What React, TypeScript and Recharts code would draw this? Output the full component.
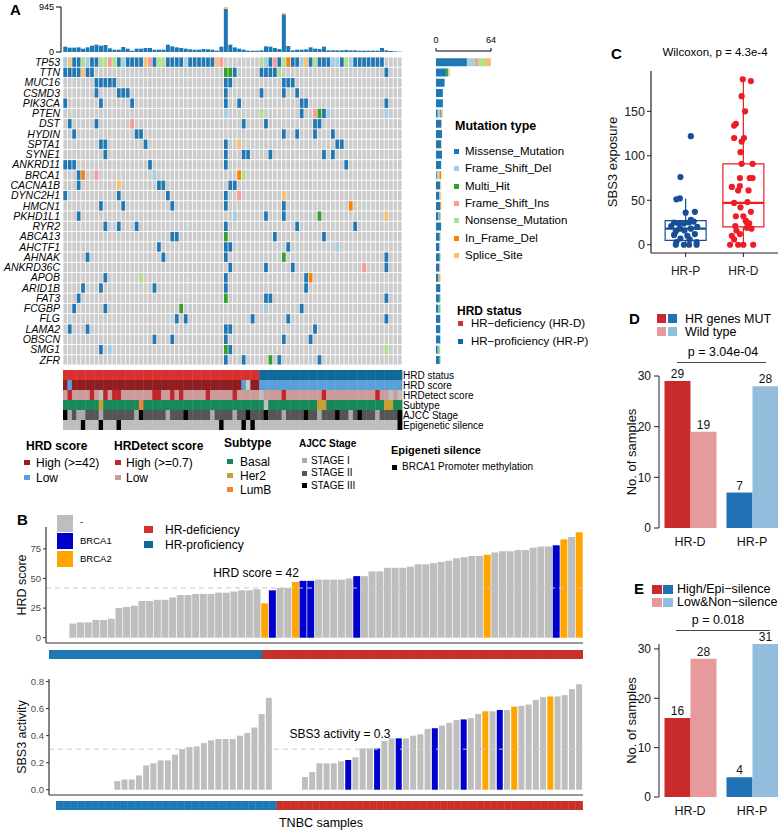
import React from "react";
import {
  BarChart,
  Bar,
  XAxis,
  YAxis,
  Cell,
  ScatterChart,
  Scatter,
  ReferenceLine,
  ReferenceArea,
  LabelList,
  Label
} from "recharts";

const FONT = "'Liberation Sans', Arial, Helvetica, sans-serif";

// ---------------- Panel A: oncoprint ----------------
const N_SAMPLES = 76;

const genes = [
  "TP53", "TTN", "MUC16", "CSMD3", "PIK3CA", "PTEN", "DST", "HYDIN", "SPTA1", "SYNE1",
  "ANKRD11", "BRCA1", "CACNA1B", "DYNC2H1", "HMCN1", "PKHD1L1", "RYR2", "ABCA13", "AHCTF1", "AHNAK",
  "ANKRD36C", "APOB", "ARID1B", "FAT3", "FCGBP", "FLG", "LAMA2", "OBSCN", "SMG1", "ZFR"
];

const genePct = [
  "84%", "21%", "13%", "11%", "11%", "11%", "9%", "9%", "9%", "9%",
  "8%", "8%", "8%", "8%", "8%", "8%", "8%", "7%", "7%", "7%",
  "7%", "7%", "7%", "7%", "7%", "7%", "7%", "7%", "7%", "7%"
];

// M missense, L frame-shift del, H multi hit, I frame-shift ins, N nonsense, D in-frame del, S splice
const tp53Row = ["LSMMNLMMNN", "INMLMMMMSI", "MNNMMMMLMM", "MMMMSI....", "....NLMIMN", "DMMLSMNMMM", "LLMNLMMMMM", "MM...."].join("");

// other genes: "column+type" tokens
const geneMuts = [
  tp53Row,
  "0M 1M 2M 3M 4S 5M 6M 36H 37H 38M 44M 45M 46M 47M 48N 72M",
  "7M 8M 9M 10M 11M 36M 37M 49M 50M 51M",
  "7M 12M 13M 14M 36M 44M 49M 52M",
  "0M 8M 15M 36M 39M 53M 54M 72M",
  "36L 44N 53M 56I 57H 58M 59L 72L",
  "1M 7M 15I 40M 45M 56M 57M",
  "2M 16M 17M 49M 52M 56M 60M",
  "8M 9M 18M 36M 39S 61M 62M",
  "9M 36M 40M 41M 46M 58M 60M",
  "0M 1M 2M 19M 36M 63M",
  "3M 4D 7I 20L 39D 40N",
  "3M 12S 21M 22M 37M 38M",
  "0M 12M 23M 36M 39I 49S",
  "8M 13M 24M 36M 49M 64D",
  "3M 38L 45M 49M 57H 72S",
  "9M 12M 16M 36M 52M 65M",
  "24M 25M 36H 47M 58M",
  "21M 36M 37M 50M 61L",
  "5M 22M 36M 49H 72M",
  "37M 45M 51M 67I 72M",
  "9M 17N 36M 54M 55D",
  "4M 8M 20M 36M 54M",
  "3M 36H 45M 46M 72M",
  "2M 9M 26H 45L 53M",
  "25M 27M 42M 50M 72M",
  "1M 5M 36M 37M 56M",
  "20M 24M 36M 49M 55M",
  "8M 10L 36H 37M 72N",
  "36M 40M 46H 48M 57M"
];

const mutTypes = ["M", "L", "H", "I", "N", "D", "S"];
const mutNames = ["Missense_Mutation", "Frame_Shift_Del", "Multi_Hit", "Frame_Shift_Ins", "Nonsense_Mutation", "In_Frame_Del", "Splice_Site"];
const mutColors = ["#1F78B4", "#A6CEE3", "#33A02C", "#FB9A99", "#B2DF8A", "#FF7F00", "#FDBF6F"];

// mutations per sample (top bar)
const tmbTotal = [
  112, 91, 91, 98, 70, 98, 133, 154, 133, 147,
  77, 49, 49, 105, 70, 28, 70, 70, 84, 84,
  49, 49, 49, 154, 119, 98, 84, 70, 56, 49,
  49, 63, 56, 49, 28, 112, 945, 154, 98, 70,
  49, 28, 28, 28, 35, 119, 112, 84, 63, 820,
  126, 35, 49, 49, 56, 98, 70, 63, 112, 35,
  35, 35, 35, 42, 35, 35, 28, 28, 28, 28,
  28, 84, 35, 21, 14, 7
];
const tmbSpliceTop: Record<number, number> = { 36: 40, 49: 30 };

const annoNames = ["HRD status", "HRD score", "HRDetect score", "Subtype", "AJCC Stage", "Epigenetic silence"];
const annoRle = [
  "D44 P32",
  "H1 L1 H38 L1 N1 H2 L32",
  "L1 H1 L4 H1 L1 N1 H1 L1 H2 L7 H2 L2 H1 L1 H1 L5 H1 L5 H1 L5 N1 L4 H1 L8 H1 L11 H1 L2 N1 L1 N1",
  "B8 H1 B8 L1 B27 N1 B11 H2 B13 H2 B2",
  "c1 a1 b1 a2 b3 a1 b7 a1 c1 b5 a1 b3 c1 b5 a1 b4 a1 b2 c1 b3 c1 b3 a1 b4 c1 b2 a1 b3 c1 b2 a1 b1 c1 b3 a1 b4 c1",
  "n4 Y1 n3 Y1 n3 Y1 n22 Y1 n4 Y1 n1 Y1 n32 Y1"
];
const annoColors: Record<string, string>[] = [
  { D: "#D7302F", P: "#0F6A99" },
  { H: "#8E1E20", L: "#5A9FD8", N: "#C8C8C8" },
  { H: "#C0272D", L: "#C99B9B", N: "#BEBEBE" },
  { B: "#18875A", H: "#C8A032", L: "#F5842F", N: "#BEBEBE" },
  { a: "#ABABAB", b: "#555555", c: "#000000" },
  { n: "#BEBEBE", Y: "#000000" }
];

// ---------------- Panel B ----------------
const hrdScoreHRP = [0, 0, 0, 12, 13, 13, 15, 15, 16, 25, 26, 27, 31, 31, 32, 32, 34, 36, 36, 37, 37, 37, 38, 38, 39, 40, 40, 41];
const hrdScoreHRD = [29, 40, 42, 42, 47, 48, 48, 49, 49, 49, 49, 50, 52, 52, 56, 56, 59, 59, 59, 60, 62, 62, 63, 64, 65, 67, 68, 69, 69, 70, 72, 73, 73, 74, 74, 76, 77, 77, 78, 83, 85, 89];
const hrdMutHRD = "21..211.....1................2........12.2"; // 1 = BRCA1, 2 = BRCA2

const sbs3HRP = [0, 0, 0, 0, 0, 0, 0, 0, 0, 0.064, 0.076, 0.076, 0.106, 0.18, 0.195, 0.217, 0.217, 0.26, 0.3, 0.315, 0.32, 0.345, 0.365, 0.375, 0.375, 0.375, 0.4, 0.42, 0.46, 0.56, 0.68];
const sbs3HRD = [0, 0, 0, 0, 0.094, 0.13, 0.195, 0.195, 0.195, 0.21, 0.22, 0.24, 0.305, 0.305, 0.305, 0.36, 0.38, 0.38, 0.38, 0.4, 0.41, 0.45, 0.455, 0.475, 0.495, 0.515, 0.52, 0.53, 0.56, 0.58, 0.58, 0.59, 0.59, 0.615, 0.62, 0.63, 0.665, 0.685, 0.69, 0.69, 0.7, 0.745, 0.78];
const sbs3MutHRD = "....".concat("......1...1..1....1...1..2.1.2....2....");

// ---------------- Panel C ----------------
const boxGroups = ["HR-P", "HR-D"];
// [min whisker, Q1, median, Q3, max whisker]
const boxStats = [
  [0, 5, 18, 27, 52],
  [0, 20, 47, 91, 187]
];
// [SBS3 exposure, horizontal jitter]
const exposureHRP = [
  [122, 0.09], [76, -0.09], [51, -0.16], [52, -0.1], [36, 0], [37, 0.16], [28, 0.09], [25, -0.2], [24, -0.12], [24, -0.03],
  [25, 0.06], [26, 0.14], [18, 0.09], [18, -0.1], [15, -0.17], [16, -0.02], [11, -0.2], [10, 0.03], [12, 0.16], [7, -0.09],
  [6, 0.07], [3, -0.16], [3, 0.19], [0, -0.17], [0, -0.03], [0, 0.06], [0, 0.19], [20, 0.2], [21, -0.25]
];
const exposureHRD = [
  [186, -0.01], [184, 0.13], [167, -0.03], [150, 0.03], [134, -0.16], [136, -0.13], [120, -0.16], [120, 0.01], [116, -0.03], [104, -0.05],
  [91, -0.03], [91, 0.16], [65, -0.2], [75, -0.06], [75, 0.11], [75, 0.16], [66, -0.06], [61, -0.09], [61, 0.09], [48, 0.07],
  [47, -0.16], [42, -0.05], [37, 0.13], [32, -0.13], [32, 0], [27, 0.04], [21, -0.14], [25, 0.06], [24, 0.1], [18, 0.14],
  [19, 0.06], [16, -0.12], [12, -0.06], [10, -0.2], [6, -0.16], [0, -0.23], [0, -0.09], [0, 0], [0, 0.17]
];

// ---------------- Panels D, E ----------------
const barGroups = ["HR-D", "HR-P"];
const dMut = [29, 7];
const dWild = [19, 28];
const eHigh = [16, 4];
const eLow = [28, 31];

// ---------------- helpers ----------------
const rowCodes = (s: string): string[] => {
  if (!s.includes(" ") && s.length === N_SAMPLES) return s.split("");
  const r: string[] = Array(N_SAMPLES).fill(".");
  s.split(" ").forEach((tok) => {
    r[parseInt(tok, 10)] = tok.slice(-1);
  });
  return r;
};
const rle = (s: string): string[] =>
  s.split(" ").flatMap((tok) => Array(parseInt(tok.slice(1), 10)).fill(tok[0]));

const mutColor = (t: string) => mutColors[mutTypes.indexOf(t)];
const brcaFill: Record<string, string> = { ".": "#BEBEBE", "1": "#0000CD", "2": "#FFA500" };
const grpFill: Record<string, string> = { P: "#1F78B4", D: "#C8302C" };

const GRID_W = 339;
const GRID_H = 308;

const T = ({ x, y, children, size = 12, bold = false, anchor = "start", color = "#000" }: any) => (
  <div
    style={{
      position: "absolute",
      left: x,
      top: y,
      transform: `translate(${anchor === "middle" ? "-50%" : anchor === "end" ? "-100%" : "0"}, -50%)`,
      fontSize: size,
      fontWeight: bold ? 700 : 400,
      color,
      whiteSpace: "nowrap",
      lineHeight: 1
    }}
  >
    {children}
  </div>
);
const Sq = ({ x, y, w, h, c }: any) => (
  <div style={{ position: "absolute", left: x, top: y, width: w, height: h, background: c }} />
);
const Pos = ({ x, y, children }: any) => (
  <div style={{ position: "absolute", left: x, top: y }}>{children}</div>
);

// single-line tick text (no wrapping)
const flatTick = (labels: string[], anchor: string, size: number, italic = false) => (p: any) => (
  <text x={p.x} y={p.y} dy="0.35em" textAnchor={anchor} fontSize={size} fontStyle={italic ? "italic" : "normal"} fill="#000">
    {labels[p.payload.value]}
  </text>
);

// ---------------- Panel A charts ----------------
function TmbBars() {
  const data = tmbTotal.map((v, i) => {
    const o = tmbSpliceTop[i] ?? 0;
    return { i, m: v - o, o };
  });
  return (
    <BarChart width={402} height={60} data={data} margin={{ top: 7, right: 0, bottom: 8, left: 0 }} barCategoryGap="6%">
      <XAxis dataKey="i" hide padding={{ left: 2, right: 0 }} />
      <YAxis domain={[0, 945]} ticks={[0, 945]} interval={0} width={61} tickSize={5} tickMargin={2}
        tick={{ fontSize: 9, fill: "#000" }} axisLine={{ stroke: "#000" }} tickLine={{ stroke: "#000" }} />
      <Bar dataKey="m" stackId="t" fill="#1F78B4" isAnimationActive={false} />
      <Bar dataKey="o" stackId="t" fill="#FDBF6F" isAnimationActive={false} />
    </BarChart>
  );
}

function Oncoprint() {
  const bg: any[] = [];
  const hits: any[] = [];
  genes.forEach((_, r) => {
    rowCodes(geneMuts[r]).forEach((t, c) => {
      bg.push({ x: c, y: r });
      if (t !== ".") hits.push({ x: c, y: r, t });
    });
  });
  const w = GRID_W / N_SAMPLES;
  const h = GRID_H / genes.length;
  const cell = (p: any) => (
    <rect x={p.cx - w / 2 + 0.4} y={p.cy - h / 2 + 0.5} width={w - 0.8} height={h - 1}
      fill={p.payload.t ? mutColor(p.payload.t) : "#CCCCCC"} />
  );
  const rows = genes.map((_, i) => i);
  const dom: [number, number] = [-0.5, genes.length - 0.5];
  return (
    <ScatterChart width={440} height={370} margin={{ top: 57, right: 0, bottom: 5, left: 0 }}>
      <XAxis type="number" dataKey="x" domain={[-0.5, N_SAMPLES - 0.5]} hide />
      <YAxis yAxisId="g" type="number" dataKey="y" domain={dom} reversed ticks={rows} interval={0}
        width={63} axisLine={false} tickLine={false} tickSize={0} tickMargin={3} tick={flatTick(genes, "end", 10.5, true)} />
      <YAxis yAxisId="p" orientation="right" type="number" dataKey="y" domain={dom} reversed ticks={rows} interval={0}
        width={38} axisLine={false} tickLine={false} tickSize={0} tickMargin={1} tick={flatTick(genePct, "start", 10.5)} />
      <Scatter yAxisId="g" data={bg} shape={cell} isAnimationActive={false} />
      <Scatter yAxisId="g" data={hits} shape={cell} isAnimationActive={false} />
    </ScatterChart>
  );
}

function GeneBars() {
  const data = genes.map((g, r) => {
    const codes = rowCodes(geneMuts[r]);
    const o: any = { gene: g };
    mutTypes.forEach((t) => {
      o[t] = codes.filter((c) => c === t).length;
    });
    return o;
  });
  return (
    <BarChart layout="vertical" width={80} height={370} data={data} margin={{ top: 37, right: 15, bottom: 5, left: 10 }} barCategoryGap="12%">
      <XAxis type="number" orientation="top" domain={[0, 64]} ticks={[0, 64]} interval={0} height={14} tickSize={3} tickMargin={5}
        tick={{ fontSize: 9, fill: "#000" }} axisLine={{ stroke: "#000" }} tickLine={{ stroke: "#000" }} />
      <YAxis type="category" dataKey="gene" hide padding={{ top: 6, bottom: 0 }} />
      {mutTypes.map((t, i) => (
        <Bar key={t} dataKey={t} stackId="a" fill={mutColors[i]} isAnimationActive={false} />
      ))}
    </BarChart>
  );
}

function Annotations() {
  const pts: any[] = [];
  annoRle.forEach((s, r) => rle(s).forEach((code, c) => pts.push({ x: c, y: r, fill: annoColors[r][code] })));
  const w = GRID_W / N_SAMPLES;
  const cell = (p: any) => <rect x={p.cx - w / 2} y={p.cy - 5} width={w + 0.4} height={10} fill={p.payload.fill} />;
  return (
    <ScatterChart width={520} height={72} margin={{ top: 10, right: 0, bottom: 2, left: 63 }}>
      <XAxis type="number" dataKey="x" domain={[-0.5, N_SAMPLES - 0.5]} hide />
      <YAxis type="number" dataKey="y" orientation="right" domain={[-0.5, 5.5]} reversed ticks={[0, 1, 2, 3, 4, 5]} interval={0}
        width={118} axisLine={false} tickLine={false} tickSize={0} tickMargin={1} tick={flatTick(annoNames, "start", 10)} />
      <Scatter data={pts} shape={cell} isAnimationActive={false} />
    </ScatterChart>
  );
}

// ---------------- Panel B charts ----------------
const hrdRows = [
  ...hrdScoreHRP.map((v) => ({ v, mut: ".", grp: "P" })),
  ...hrdScoreHRD.map((v, i) => ({ v, mut: hrdMutHRD[i], grp: "D" }))
].map((d, id) => ({ ...d, id }));

const sbsRows = [
  ...sbs3HRP.map((v) => ({ v, mut: ".", grp: "P" })),
  ...sbs3HRD.map((v, i) => ({ v, mut: sbs3MutHRD[i], grp: "D" }))
].map((d, id) => ({ ...d, id }));

function ScoreBars({ rows, domain, ticks, fmt, cut, label, yWidth }: any) {
  return (
    <BarChart width={583} height={124} data={rows} margin={{ top: 7, right: 0, bottom: 0, left: 0 }} barCategoryGap="5%">
      <XAxis dataKey="id" tick={false} tickLine={false} height={1} axisLine={{ stroke: "#333", strokeWidth: 1.2 }} />
      <YAxis domain={domain} ticks={ticks} interval={0} width={yWidth} tickSize={3} tickMargin={2} tickFormatter={fmt}
        tick={{ fontSize: 9.5, fill: "#4D4D4D" }} axisLine={{ stroke: "#333", strokeWidth: 1.2 }} tickLine={{ stroke: "#333" }}
        allowDataOverflow>
        <Label value={label} angle={-90} position="insideLeft" offset={22}
          style={{ textAnchor: "middle", fontSize: 12.5, fill: "#111" }} />
      </YAxis>
      <Bar dataKey="v" isAnimationActive={false}>
        {rows.map((d: any) => (
          <Cell key={d.id} fill={brcaFill[d.mut]} />
        ))}
      </Bar>
      <ReferenceLine y={cut} stroke="#C9C9C9" strokeDasharray="5 4" />
    </BarChart>
  );
}

function GroupStrip({ rows, width }: any) {
  return (
    <BarChart width={width} height={9} data={rows} margin={{ top: 0, right: 0, bottom: 0, left: 0 }} barCategoryGap={0}>
      <XAxis dataKey="id" hide />
      <YAxis hide domain={[0, 1]} />
      <Bar dataKey={() => 1} isAnimationActive={false}>
        {rows.map((d: any) => (
          <Cell key={d.id} fill={grpFill[d.grp]} stroke={grpFill[d.grp]} strokeWidth={0.5} />
        ))}
      </Bar>
    </BarChart>
  );
}

// ---------------- Panel C ----------------
const boxColors = ["#174E95", "#EE1C25"];

function ExposureBox() {
  const pts = [exposureHRP, exposureHRD].map((arr, g) => arr.map(([v, j]) => ({ x: g + 1 + j, y: v })));
  const hw = 0.355;
  return (
    <ScatterChart width={188} height={218} margin={{ top: 11, right: 0, bottom: 0, left: 0 }}>
      <XAxis type="number" dataKey="x" domain={[0.4, 2.6]} ticks={[1, 2]} interval={0} tickFormatter={(v: number) => boxGroups[v - 1]}
        height={25} tickSize={4} tickMargin={9} tick={{ fontSize: 12, fill: "#222" }}
        axisLine={{ stroke: "#222", strokeWidth: 1.2 }} tickLine={{ stroke: "#222" }} />
      <YAxis type="number" dataKey="y" domain={[-9.3, 195.3]} ticks={[0, 50, 100, 150]} interval={0} width={61} tickSize={4} tickMargin={2}
        tick={{ fontSize: 12.5, fill: "#222" }} axisLine={{ stroke: "#222", strokeWidth: 1.2 }} tickLine={{ stroke: "#222" }}>
        <Label value="SBS3 exposure" angle={-90} position="insideLeft" offset={22}
          style={{ textAnchor: "middle", fontSize: 13, fill: "#111" }} />
      </YAxis>
      {boxStats.map(([lo, q1, med, q3, hi], g) => {
        const x = g + 1;
        const c = boxColors[g];
        return (
          <React.Fragment key={g}>
            <ReferenceLine segment={[{ x, y: q3 }, { x, y: hi }]} stroke={c} strokeWidth={1.2} />
            <ReferenceLine segment={[{ x, y: lo }, { x, y: q1 }]} stroke={c} strokeWidth={1.2} />
            <ReferenceArea x1={x - hw} x2={x + hw} y1={q1} y2={q3} fill="#fff" fillOpacity={0} stroke={c} strokeWidth={1.2} />
            <ReferenceLine segment={[{ x: x - hw, y: med }, { x: x + hw, y: med }]} stroke={c} strokeWidth={2.2} />
          </React.Fragment>
        );
      })}
      {pts.map((p, g) => (
        <Scatter key={g} data={p} isAnimationActive={false}
          shape={(s: any) => <circle cx={s.cx} cy={s.cy} r={3.1} fill={boxColors[g]} />} />
      ))}
    </ScatterChart>
  );
}

// ---------------- Panels D, E ----------------
const darkFill = ["#C92A2B", "#2171B5"];
const lightFill = ["#E69A9B", "#93BDDD"];

function GroupBars({ a, b, yMax, top }: any) {
  const data = barGroups.map((g, i) => ({ g, a: a[i], b: b[i] }));
  return (
    <BarChart width={183} height={top + (yMax === 30 ? 152 : 153) + 20} data={data}
      margin={{ top, right: 0, bottom: 0, left: 0 }} barCategoryGap={5.5} barGap={0}>
      <XAxis dataKey="g" axisLine={false} tickLine={false} height={20} tickMargin={3} tick={{ fontSize: 12.5, fill: "#111" }} />
      <YAxis domain={[0, yMax]} ticks={[0, 10, 20, 30]} interval={0} width={59} tickSize={5} tickMargin={3}
        tick={{ fontSize: 12, fill: "#111" }} axisLine={{ stroke: "#222" }} tickLine={{ stroke: "#222" }}>
        <Label value="No. of samples" angle={-90} position="insideLeft" offset={31}
          style={{ textAnchor: "middle", fontSize: 13, fill: "#111" }} />
      </YAxis>
      <Bar dataKey="a" isAnimationActive={false}>
        {data.map((_, i) => <Cell key={i} fill={darkFill[i]} />)}
        <LabelList dataKey="a" position="top" offset={3} style={{ fontSize: 12, fill: "#111" }} />
      </Bar>
      <Bar dataKey="b" isAnimationActive={false}>
        {data.map((_, i) => <Cell key={i} fill={lightFill[i]} />)}
        <LabelList dataKey="b" position="top" offset={3} style={{ fontSize: 12, fill: "#111" }} />
      </Bar>
    </BarChart>
  );
}

// ---------------- legends ----------------
const hrdScoreLegend = [["High (>=42)", "#8E1E20"], ["Low", "#5A9FD8"]];
const hrdetectLegend = [["High (>=0.7)", "#C0272D"], ["Low", "#C99B9B"]];
const subtypeLegend = [["Basal", "#18875A"], ["Her2", "#C8A032"], ["LumB", "#F5842F"]];
const ajccLegend = [["STAGE I", "#ABABAB"], ["STAGE II", "#555555"], ["STAGE III", "#000000"]];
const hrdStatusLegend = [["HR\u2212deficiency (HR-D)", "#D7302F"], ["HR\u2212proficiency (HR-P)", "#0F6A99"]];

export default function App() {
  return (
    <div style={{ position: "absolute", left: 0, top: 0, width: 778, height: 831, overflow: "hidden", background: "#fff", fontFamily: FONT }}>
      {/* Panel A */}
      <T x={10} y={9} size={15} bold>A</T>
      <Pos x={0} y={0}><TmbBars /></Pos>
      <Pos x={0} y={0}><Oncoprint /></Pos>
      <Pos x={426} y={0}><GeneBars /></Pos>
      <Pos x={0} y={360}><Annotations /></Pos>

      <T x={455} y={126} size={12.5} bold>Mutation type</T>
      {mutNames.map((n, i) => (
        <React.Fragment key={n}>
          <Sq x={454} y={149 + i * 17.3} w={5} h={5} c={mutColors[i]} />
          <T x={465} y={152 + i * 17.3} size={11.5}>{n}</T>
        </React.Fragment>
      ))}
      <T x={457} y={311} size={12} bold>HRD status</T>
      {hrdStatusLegend.map(([n, c], i) => (
        <React.Fragment key={n}>
          <Sq x={458} y={321 + i * 18} w={5} h={5} c={c} />
          <T x={471} y={324 + i * 18} size={11.5}>{n}</T>
        </React.Fragment>
      ))}

      <T x={26} y={446} size={12} bold>HRD score</T>
      {hrdScoreLegend.map(([n, c], i) => (
        <React.Fragment key={n}>
          <Sq x={24} y={460 + i * 15} w={6} h={5} c={c} />
          <T x={36} y={463 + i * 15} size={12}>{n}</T>
        </React.Fragment>
      ))}
      <T x={114} y={446} size={12} bold>HRDetect score</T>
      {hrdetectLegend.map(([n, c], i) => (
        <React.Fragment key={n}>
          <Sq x={115} y={460 + i * 15} w={6} h={5} c={c} />
          <T x={126} y={463 + i * 15} size={12}>{n}</T>
        </React.Fragment>
      ))}
      <T x={224} y={443} size={12} bold>Subtype</T>
      {subtypeLegend.map(([n, c], i) => (
        <React.Fragment key={n}>
          <Sq x={227} y={459 + i * 14} w={6} h={5} c={c} />
          <T x={240} y={462 + i * 14} size={12}>{n}</T>
        </React.Fragment>
      ))}
      <T x={299} y={444} size={10} bold>AJCC Stage</T>
      {ajccLegend.map(([n, c], i) => (
        <React.Fragment key={n}>
          <Sq x={302} y={458 + i * 12.5} w={5} h={5} c={c} />
          <T x={311} y={460.5 + i * 12.5} size={10}>{n}</T>
        </React.Fragment>
      ))}
      <T x={391} y={450} size={11} bold>Epigeneti silence</T>
      <Sq x={392} y={465} w={5} h={5} c="#000" />
      <T x={402} y={467} size={10}>BRCA1 Promoter methylation</T>

      {/* Panel B */}
      <T x={17} y={519} size={15} bold>B</T>
      <Pos x={0} y={520}>
        <ScoreBars rows={hrdRows} domain={[-4.45, 93.45]} ticks={[0, 25, 50, 75]} cut={42} label="HRD score" yWidth={46} />
      </Pos>
      <Pos x={49} y={650}><GroupStrip rows={hrdRows} width={534} /></Pos>
      <Pos x={0} y={672}>
        <ScoreBars rows={sbsRows} domain={[-0.039, 0.819]} ticks={[0, 0.2, 0.4, 0.6, 0.8]} fmt={(v: number) => v.toFixed(1)}
          cut={0.3} label="SBS3 activity" yWidth={49} />
      </Pos>
      <Pos x={56} y={801}><GroupStrip rows={sbsRows} width={527} /></Pos>
      <T x={321} y={823} size={12.5} anchor="middle">TNBC samples</T>
      <T x={256} y={573} size={12} anchor="middle">HRD score = 42</T>
      <T x={340} y={734} size={12} anchor="middle">SBS3 activity = 0.3</T>

      <Sq x={57} y={515} w={16} h={17} c={brcaFill["."]} />
      <Sq x={57} y={533} w={16} h={16} c={brcaFill["1"]} />
      <Sq x={57} y={551} w={16} h={16} c={brcaFill["2"]} />
      <T x={80} y={522} size={9.5}>-</T>
      <T x={80} y={541} size={9.5}>BRCA1</T>
      <T x={80} y={559} size={9.5}>BRCA2</T>
      <Sq x={144} y={526} w={9} h={7} c="#D7302F" />
      <Sq x={144} y={541} w={9} h={7} c="#0F6A99" />
      <T x={165} y={530} size={12}>HR-deficiency</T>
      <T x={165} y={545} size={12}>HR-proficiency</T>

      {/* Panel C */}
      <T x={611} y={53} size={15} bold>C</T>
      <T x={715} y={53} size={11.5} anchor="middle">Wilcoxon, p = 4.3e-4</T>
      <Pos x={590} y={60}><ExposureBox /></Pos>

      {/* Panel D */}
      <T x={629} y={318} size={15} bold>D</T>
      <Sq x={657} y={314} w={9} h={9} c={darkFill[0]} />
      <Sq x={668} y={314} w={9} h={9} c={darkFill[1]} />
      <Sq x={657} y={327} w={9} h={9} c={lightFill[0]} />
      <Sq x={668} y={327} w={9} h={9} c={lightFill[1]} />
      <T x={685} y={319} size={12.5}>HR genes MUT</T>
      <T x={685} y={332} size={12.5}>Wild type</T>
      <T x={723} y={352} size={12.5} anchor="middle">p = 3.04e-04</T>
      <div style={{ position: "absolute", left: 677, top: 362, width: 89, height: 1, background: "#444" }} />
      <Pos x={600} y={330}><GroupBars a={dMut} b={dWild} yMax={30} top={46} /></Pos>

      {/* Panel E */}
      <T x={634} y={588} size={15} bold>E</T>
      <Sq x={652} y={585} w={10} h={9} c={darkFill[0]} />
      <Sq x={663} y={585} w={10} h={9} c={darkFill[1]} />
      <Sq x={652} y={598} w={10} h={9} c={lightFill[0]} />
      <Sq x={663} y={598} w={10} h={9} c={lightFill[1]} />
      <T x={677} y={589} size={12.5}>High/Epi{"\u2212"}silence</T>
      <T x={677} y={602} size={12.5}>Low&amp;Non{"\u2212"}silence</T>
      <T x={718} y={620} size={12.5} anchor="middle">p = 0.018</T>
      <div style={{ position: "absolute", left: 676, top: 630, width: 94, height: 1, background: "#444" }} />
      <Pos x={600} y={600}><GroupBars a={eHigh} b={eLow} yMax={31} top={44} /></Pos>
    </div>
  );
}
